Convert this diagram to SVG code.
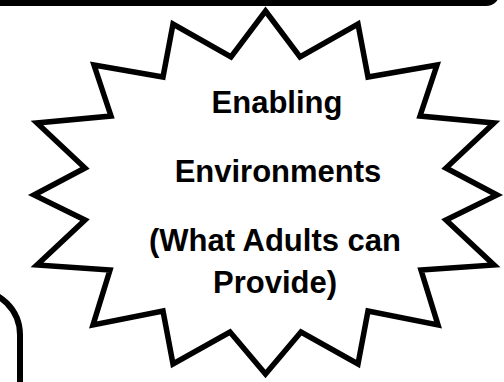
<svg xmlns="http://www.w3.org/2000/svg" width="504" height="382" viewBox="0 0 504 382">
  <style>
    .outline { fill: #ffffff; stroke: #000000; stroke-width: 5.5; stroke-linejoin: miter; stroke-miterlimit: 10; }
    .box { fill: none; stroke: #000000; stroke-width: 6; }
    .label { font-family: "Liberation Sans", Arial, sans-serif; font-weight: bold; font-size: 31px; fill: #000000; text-anchor: middle; }
  </style>
  <rect width="504" height="382" fill="#ffffff"/>

  <!-- banner above, only its lower edge shows -->
  <g id="top-banner">
    <rect x="-20" y="-40" width="520" height="46" rx="14" ry="14" fill="#000000"/>
  </g>

  <!-- panel at the lower left, only its upper right corner shows -->
  <g id="side-panel">
    <path class="box" d="M -60 290 L -25 290 A 45 45 0 0 1 20 335 L 20 400"/>
  </g>

  <!-- starburst callout -->
  <g id="enabling-environments">
    <polygon class="outline" points="265.5,11 300,57 358,24 368,77 437,65 420,116 494,123 446,168 497,195 446,220 494,265 421,270 438,325 368,311 358,364 301,332 265.5,374 230,332 173,364 163,311 93,325 110,270 37,265 85,220 34,195 85,168 37,123 111,116 94,65 163,77 173,24 231,57"/>
    <text class="label" x="277" y="113">Enabling</text>
    <text class="label" x="278" y="182">Environments</text>
    <text class="label" x="275" y="251">(What Adults can</text>
    <text class="label" x="275" y="293">Provide)</text>
  </g>
</svg>
